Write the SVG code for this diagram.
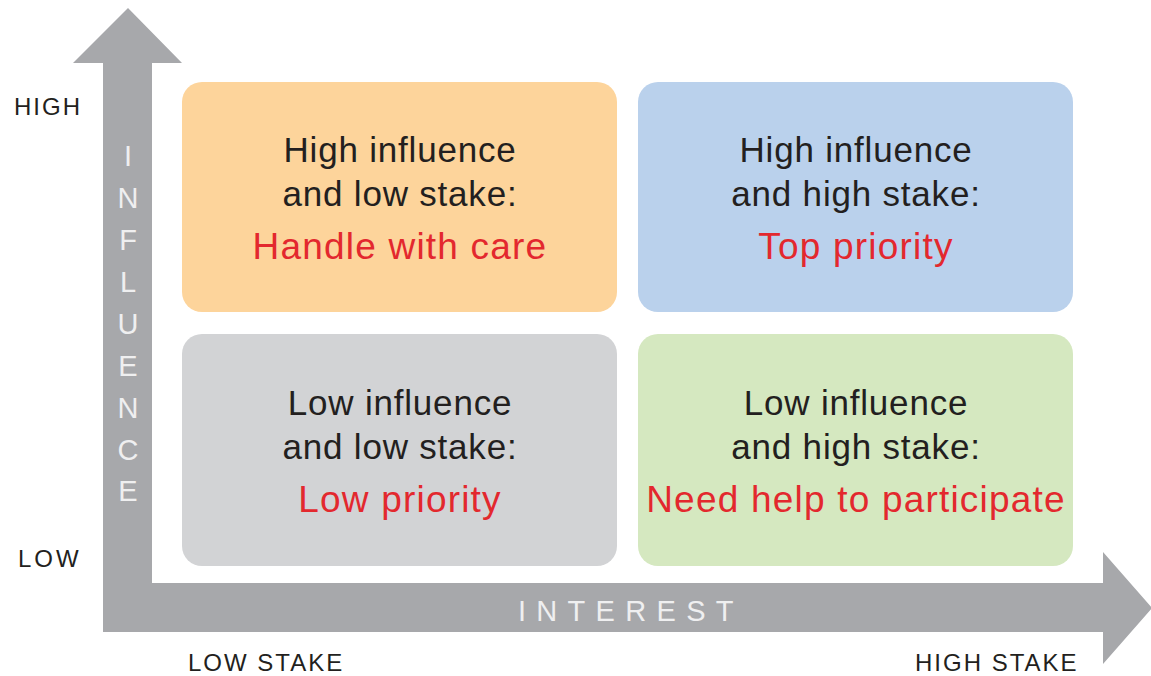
<svg xmlns="http://www.w3.org/2000/svg" width="1151" height="676" viewBox="0 0 1151 676">
<style>
.box{rx:20px;ry:20px}
.t{font-family:"Liberation Sans",Arial,sans-serif;font-size:35px;fill:#231f20;text-anchor:middle;letter-spacing:0.8px}
.r{font-family:"Liberation Sans",Arial,sans-serif;font-size:37px;fill:#e3282e;text-anchor:middle;letter-spacing:1.2px}
.lab{font-family:"Liberation Sans",Arial,sans-serif;font-size:24px;fill:#231f20;letter-spacing:2px}
.ax{font-family:"Liberation Sans",Arial,sans-serif;font-size:29px;fill:#efeff0}
</style>
<rect width="1151" height="676" fill="#ffffff"/>
<g id="axes">
<polygon points="128,8 182,63 152,63 152,583 1103,583 1103,552 1152,608 1103,664 1103,632 103,632 103,63 73,63" fill="#a7a8ab"/>
<g class="ax" text-anchor="middle">
<text x="128" y="166">I</text>
<text x="128" y="208">N</text>
<text x="128" y="250">F</text>
<text x="128" y="292">L</text>
<text x="128" y="334">U</text>
<text x="128" y="376">E</text>
<text x="128" y="418">N</text>
<text x="128" y="460">C</text>
<text x="128" y="501">E</text>
</g>
<text class="ax" x="518" y="621" style="letter-spacing:10.3px">INTEREST</text>
</g>
<g id="labels">
<text class="lab" x="14" y="115">HIGH</text>
<text class="lab" x="18" y="567" style="letter-spacing:3px">LOW</text>
<text class="lab" x="188" y="671">LOW STAKE</text>
<text class="lab" x="915" y="671">HIGH STAKE</text>
</g>
<g id="q-high-low">
<rect class="box" x="182" y="82" width="435" height="230" fill="#fdd49b"/>
<text class="t" x="400" y="162">High influence</text>
<text class="t" x="400" y="206">and low stake:</text>
<text class="r" x="400" y="259">Handle with care</text>
</g>
<g id="q-high-high">
<rect class="box" x="638" y="82" width="435" height="230" fill="#bad1ec"/>
<text class="t" x="856" y="162">High influence</text>
<text class="t" x="856" y="206">and high stake:</text>
<text class="r" x="856" y="259">Top priority</text>
</g>
<g id="q-low-low">
<rect class="box" x="182" y="334" width="435" height="232" fill="#d2d3d5"/>
<text class="t" x="400" y="415">Low influence</text>
<text class="t" x="400" y="459">and low stake:</text>
<text class="r" x="400" y="512">Low priority</text>
</g>
<g id="q-low-high">
<rect class="box" x="638" y="334" width="435" height="232" fill="#d5e8c0"/>
<text class="t" x="856" y="415">Low influence</text>
<text class="t" x="856" y="459">and high stake:</text>
<text class="r" x="856" y="512">Need help to participate</text>
</g>
</svg>
